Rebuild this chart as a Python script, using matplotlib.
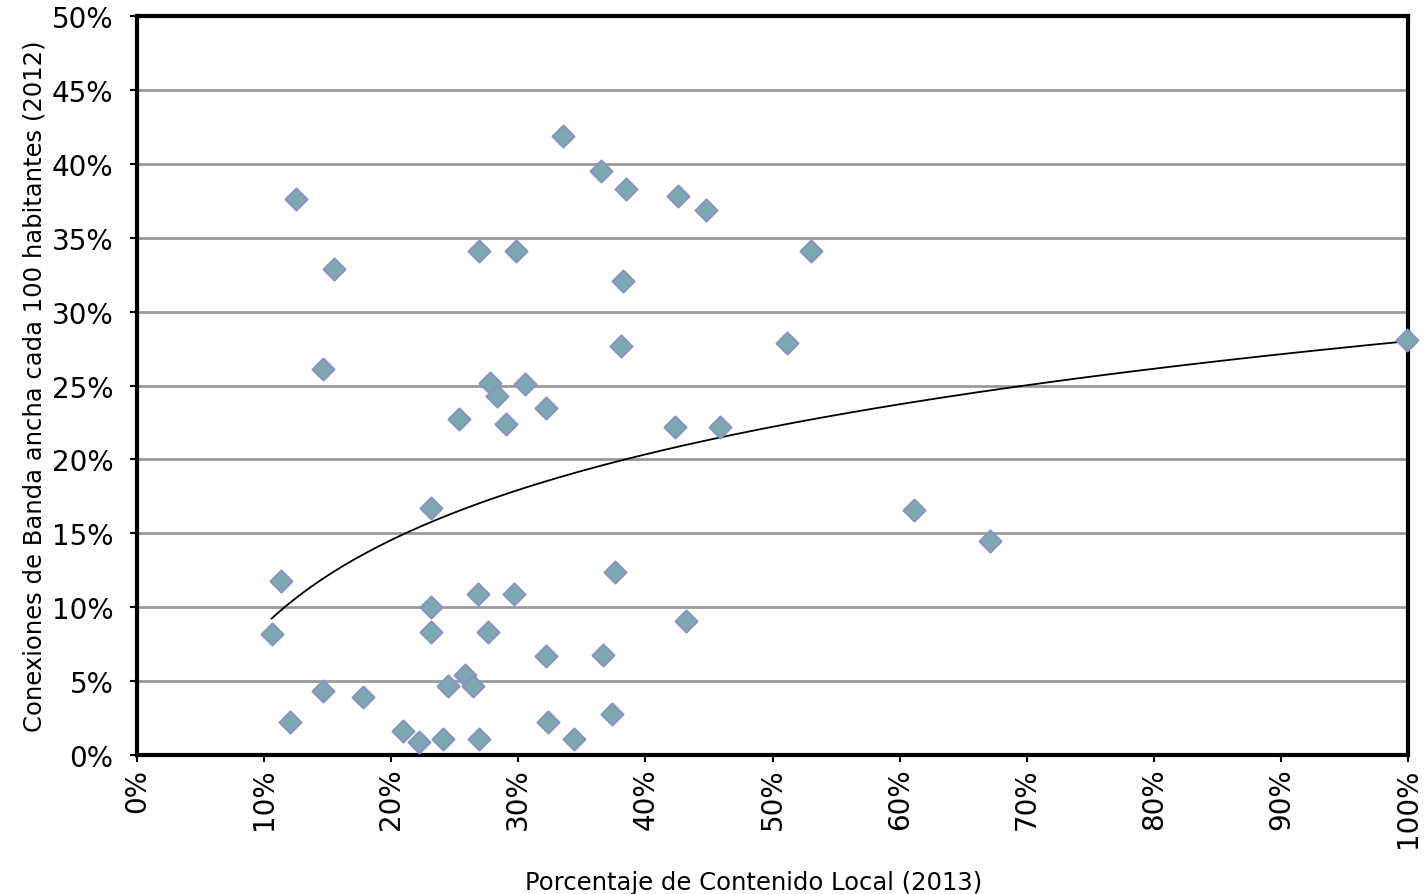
import numpy as np
import matplotlib.pyplot as plt
from matplotlib.ticker import PercentFormatter

# Contenido local (x) vs conexiones de banda ancha (y), both as fractions
contenido_local = [
    0.106, 0.113, 0.120, 0.125, 0.146, 0.146, 0.155, 0.178, 0.209, 0.222,
    0.231, 0.231, 0.231, 0.241, 0.245, 0.253, 0.258, 0.264, 0.268, 0.269,
    0.269, 0.276, 0.278, 0.283, 0.290, 0.297, 0.298, 0.305, 0.322, 0.322,
    0.323, 0.335, 0.344, 0.365, 0.367, 0.374, 0.376, 0.381, 0.382, 0.385,
    0.423, 0.426, 0.432, 0.448, 0.459, 0.511, 0.530, 0.611, 0.671, 0.999,
]
banda_ancha = [
    0.082, 0.118, 0.022, 0.376, 0.261, 0.043, 0.329, 0.039, 0.016, 0.009,
    0.167, 0.100, 0.083, 0.011, 0.047, 0.227, 0.054, 0.047, 0.109, 0.341,
    0.011, 0.083, 0.252, 0.243, 0.224, 0.109, 0.341, 0.251, 0.235, 0.067,
    0.022, 0.419, 0.011, 0.395, 0.068, 0.028, 0.124, 0.277, 0.321, 0.383,
    0.222, 0.378, 0.091, 0.369, 0.222, 0.279, 0.341, 0.166, 0.145, 0.281,
]

# logarithmic trendline y = a + b*ln(x), coefficients
trend_a = 0.280
trend_b = 0.0836

plt.rcParams['font.family'] = ['DejaVu Sans']

fig = plt.figure(figsize=(14.24, 8.95), dpi=100)
ax = fig.add_axes([0.0962, 0.1553, 0.8926, 0.8257])

ax.set_xlim(0, 1)
ax.set_ylim(0, 0.5)

ax.set_yticks(np.arange(0, 0.51, 0.05))
ax.set_xticks(np.arange(0, 1.01, 0.1))
ax.yaxis.set_major_formatter(PercentFormatter(1.0, decimals=0))
ax.xaxis.set_major_formatter(PercentFormatter(1.0, decimals=0))
ax.grid(axis='y', color='#9a9a9a', linewidth=2)
ax.set_axisbelow(True)

xs = np.linspace(min(contenido_local), max(contenido_local), 400)
ax.plot(xs, trend_a + trend_b * np.log(xs), color='black', linewidth=1.3, zorder=2)

ax.scatter(contenido_local, banda_ancha, marker='D', s=125, facecolor='#7aa9b2',
           edgecolor='#8c93c4', linewidth=1.5, zorder=3, clip_on=False)

for sp in ax.spines.values():
    sp.set_linewidth(3)
    sp.set_color('black')

ax.tick_params(axis='both', direction='out', length=5, width=1.5, labelsize=20)
ax.tick_params(axis='y', pad=12)
ax.tick_params(axis='x', labelrotation=90, pad=4)

ax.set_xlabel('Porcentaje de Contenido Local (2013)', fontsize=17.5)
ax.xaxis.set_label_coords(0.485, -0.155)
ax.set_ylabel('Conexiones de Banda ancha cada 100 habitantes (2012)', fontsize=17.5, labelpad=4)

fig.savefig('out.png', dpi=100)
